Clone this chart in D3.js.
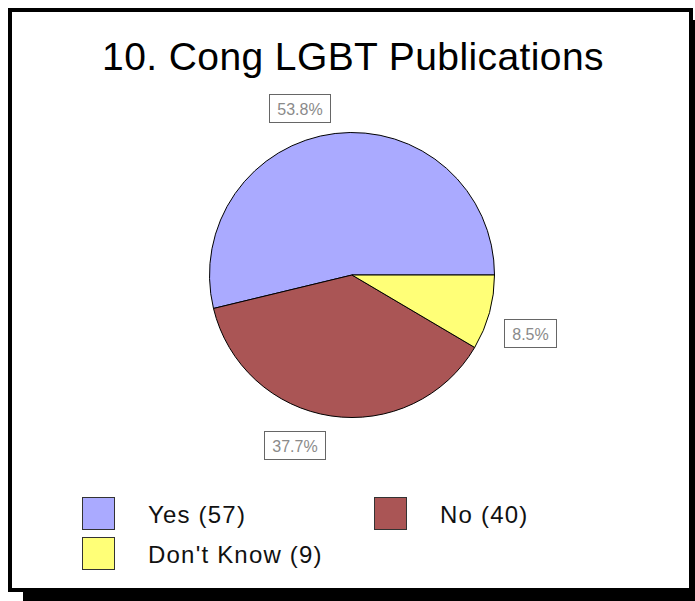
<!DOCTYPE html>
<html>
<head>
<meta charset="utf-8">
<script src="https://cdn.jsdelivr.net/npm/d3@7"></script>
<style>
  html, body { margin: 0; padding: 0; background: #fff; }
  svg { display: block; font-family: "Liberation Sans", Arial, sans-serif; }
</style>
</head>
<body>
<svg id="chart" width="695" height="601"></svg>
<script>
// Survey answers
const title = "10. Cong LGBT Publications";
const categories = ["Yes", "No", "Don't Know"];
const counts = [57, 40, 9];
const colors = ["#aaaaff", "#aa5555", "#ffff77"];

const svg = d3.select("#chart");

// Framed panel with drop shadow
const frame = { x: 10, y: 10, w: 681, h: 580 };
svg.append("rect")
  .attr("x", frame.x + 13).attr("y", frame.y + 10)
  .attr("width", frame.w + 2).attr("height", frame.h + 2)
  .attr("fill", "#000");
svg.append("rect")
  .attr("x", frame.x).attr("y", frame.y)
  .attr("width", frame.w).attr("height", frame.h)
  .attr("fill", "#fff").attr("stroke", "#000").attr("stroke-width", 4);

// Title
svg.append("text")
  .attr("x", 353).attr("y", 70)
  .attr("text-anchor", "middle")
  .attr("font-size", 39)
  .attr("letter-spacing", 0.4)
  .attr("fill", "#000")
  .text(title);

// Pie: starts at 3 o'clock and runs counter-clockwise
const cx = 352, cy = 275, r = 142.5;
const total = d3.sum(counts);
const pie = d3.pie().sort(null).value(d => d.value)
  .startAngle(Math.PI / 2).endAngle(Math.PI / 2 - 2 * Math.PI);
const data = categories.map((c, i) => ({ name: c, value: counts[i], color: colors[i] }));
const arcs = pie(data);
const arc = d3.arc().innerRadius(0).outerRadius(r);

const g = svg.append("g").attr("transform", `translate(${cx},${cy})`);
g.selectAll("path.slice").data(arcs).join("path")
  .attr("class", "slice")
  .attr("d", arc)
  .attr("fill", d => d.data.color)
  .attr("stroke", "#000")
  .attr("stroke-width", 1)
  .attr("stroke-linejoin", "round");

// Percentage labels in boxes outside the pie
const fmt = d3.format(".1f");
const labelRx = 185, labelRy = 170;
arcs.forEach(d => {
  const mid = (d.startAngle + d.endAngle) / 2; // d3 angle: 0 = 12 o'clock, clockwise
  const sx = Math.sin(mid), sy = -Math.cos(mid);
  const lg = g.append("g");
  const t = lg.append("text")
    .attr("font-size", 16)
    .attr("fill", "#8a8a8a")
    .attr("text-anchor", "middle")
    .attr("dominant-baseline", "central")
    .text(fmt(d.value / total * 100) + "%");
  const tw = t.node().getComputedTextLength();
  const bw = Math.round(tw + 16), bh = 28;
  const ax = sx * labelRx;
  const ay = sy * labelRy + bh / 2 * Math.abs(sx);
  const bx = sx < 0 && Math.abs(sx) < 0.5 ? ax - bw : ax - bw / 2;
  const by = ay - bh / 2;
  lg.insert("rect", "text")
    .attr("x", Math.round(bx) + 0.5).attr("y", Math.round(by) + 0.5)
    .attr("width", bw).attr("height", bh)
    .attr("fill", "#fff").attr("stroke", "#666").attr("stroke-width", 1);
  t.attr("x", Math.round(bx) + bw / 2 + 0.5).attr("y", Math.round(by) + bh / 2 + 1);
});

// Legend: two columns
const legend = svg.append("g").attr("transform", "translate(82,497)");
const colW = 292, rowH = 40, sw = 32;
data.forEach((d, i) => {
  const col = i % 2, row = Math.floor(i / 2);
  const lg = legend.append("g").attr("transform", `translate(${col * colW},${row * rowH})`);
  lg.append("rect")
    .attr("x", 0.5).attr("y", 0.5).attr("width", sw).attr("height", sw)
    .attr("fill", d.color).attr("stroke", "#333").attr("stroke-width", 1);
  lg.append("text")
    .attr("x", 66).attr("y", 26)
    .attr("font-size", 24)
    .attr("letter-spacing", 1.2)
    .attr("fill", "#111")
    .text(`${d.name} (${d.value})`);
});
</script>
</body>
</html>
